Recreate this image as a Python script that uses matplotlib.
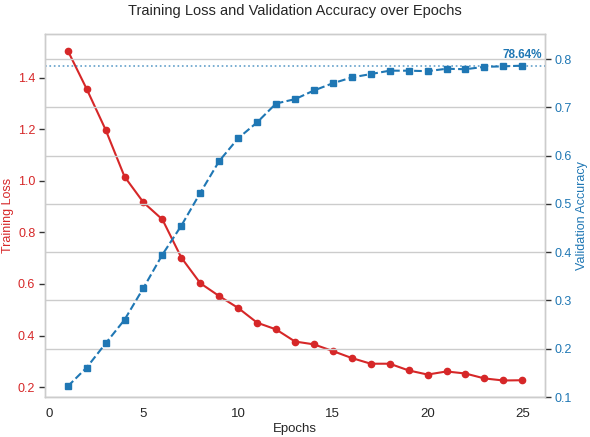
import numpy as np
import matplotlib
matplotlib.use("Agg")
import matplotlib.pyplot as plt

plt.rcParams["font.family"] = ["Liberation Sans", "DejaVu Sans"]

epochs = list(range(1, 26))
train_loss = [1.505, 1.356, 1.198, 1.016, 0.916, 0.850, 0.702, 0.603, 0.553, 0.507,
              0.450, 0.424, 0.377, 0.366, 0.340, 0.313, 0.291, 0.291, 0.265, 0.249,
              0.261, 0.253, 0.234, 0.226, 0.227]
val_acc = [0.122, 0.161, 0.211, 0.260, 0.326, 0.395, 0.455, 0.523, 0.589, 0.636,
           0.669, 0.708, 0.717, 0.735, 0.750, 0.762, 0.769, 0.776, 0.776, 0.775,
           0.780, 0.779, 0.784, 0.785, 0.7864]
best_acc = max(val_acc)

red = "#d62728"
blue = "#1f77b4"
grid_c = "#cccccc"

fig = plt.figure(figsize=(5.9, 4.37), dpi=100)
ax1 = fig.add_axes([45 / 590, 1 - 397 / 437, 500 / 590, 363 / 437])
ax2 = ax1.twinx()

ax1.plot(epochs, train_loss, "-o", color=red, lw=1.5, ms=4.5)
ax2.plot(epochs, val_acc, "--s", color=blue, lw=1.5, ms=4.5)
ax2.axhline(best_acc, color=blue, ls=":", lw=1.2, alpha=0.7)
ax2.annotate(f"{best_acc * 100:.2f}%", (25, best_acc), xytext=(0, 3),
             textcoords="offset points", ha="center", va="bottom",
             color=blue, fontsize=8.5, fontweight="bold")

ax1.set_xlim(-0.2, 26.2)
ax1.set_ylim(0.162, 1.569)
ax2.set_ylim(0.1, 0.852)
ax1.set_xticks([0, 5, 10, 15, 20, 25])
ax1.set_yticks([0.2, 0.4, 0.6, 0.8, 1.0, 1.2, 1.4])
ax2.set_yticks([0.1, 0.2, 0.3, 0.4, 0.5, 0.6, 0.7, 0.8])

ax1.grid(False)
ax2.grid(True, axis="y", color=grid_c, lw=1)
ax2.set_axisbelow(True)
for ax in (ax1, ax2):
    for s in ax.spines.values():
        s.set_color(grid_c)
        s.set_linewidth(1)

ax1.tick_params(axis="x", length=0, labelsize=9.5, colors="#262626", pad=8)
ax1.tick_params(axis="y", length=4, width=1, color="#333333", labelsize=9,
                labelcolor=red, pad=3)
ax2.tick_params(axis="y", length=4, width=1, color="#333333", labelsize=9,
                labelcolor=blue, pad=3)

ax1.set_xlabel("Epochs", fontsize=9.5, color="#262626", labelpad=2)
ax1.set_ylabel("Training Loss", fontsize=9, color=red, labelpad=3)
ax2.set_ylabel("Validation Accuracy", fontsize=9, color=blue, labelpad=3)
ax1.set_title("Training Loss and Validation Accuracy over Epochs",
              fontsize=10.5, color="#262626", pad=14)

fig.savefig("out.png", dpi=100)
